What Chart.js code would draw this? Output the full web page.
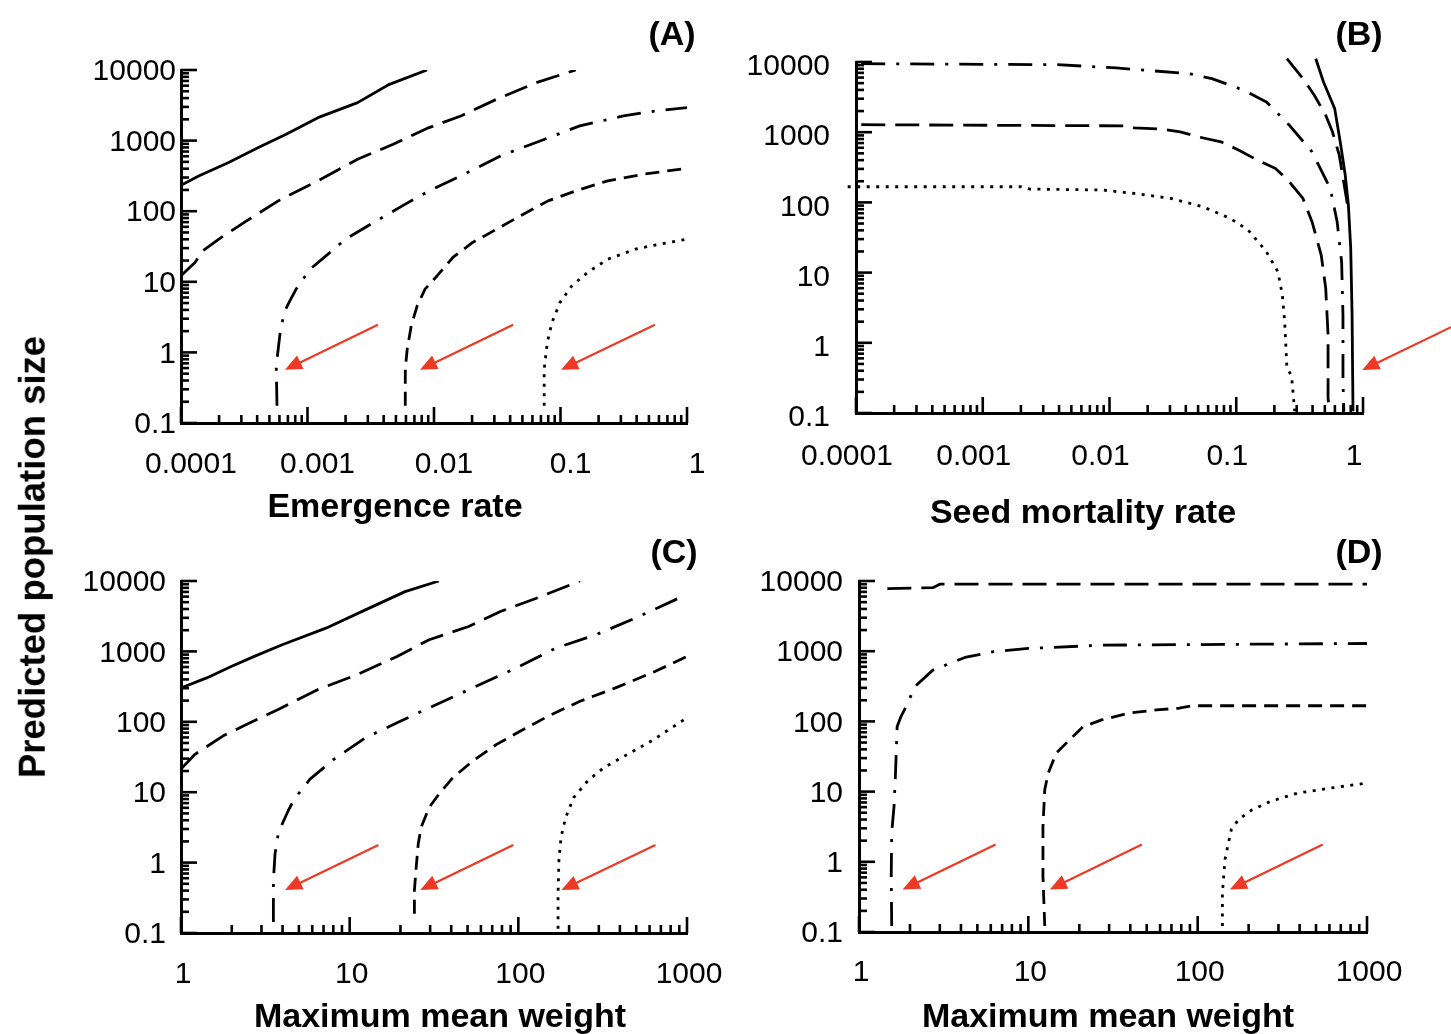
<!DOCTYPE html>
<html>
<head>
<meta charset="utf-8">
<script src="https://cdn.jsdelivr.net/npm/chart.js@4.4.1/dist/chart.umd.min.js"></script>
<style>
html,body{margin:0;padding:0;background:#fff;}
body{width:1451px;height:1034px;position:relative;overflow:hidden;font-family:"Liberation Sans",Arial,Helvetica,sans-serif;}
canvas{position:absolute;}
.t{position:absolute;font-weight:bold;font-size:34px;color:#000;white-space:nowrap;transform:translate(-50%,-50%);line-height:1;}
</style>
</head>
<body>
<canvas id="cA" width="725" height="490" style="left:0px;top:0px"></canvas>
<canvas id="cB" width="726" height="490" style="left:725px;top:0px"></canvas>
<canvas id="cC" width="747" height="514" style="left:0px;top:520px"></canvas>
<canvas id="cD" width="726" height="514" style="left:725px;top:520px"></canvas>

<div class="t" style="left:33px;top:557px;font-size:36.5px;transform:translate(-50%,-50%) rotate(-90deg);">Predicted population size</div>
<div class="t" style="left:395px;top:505px;">Emergence rate</div>
<div class="t" style="left:1083px;top:511px;">Seed mortality rate</div>
<div class="t" style="left:440px;top:1015px;">Maximum mean weight</div>
<div class="t" style="left:1108px;top:1015px;">Maximum mean weight</div>
<div class="t" style="left:672px;top:33px;">(A)</div>
<div class="t" style="left:1359px;top:33px;">(B)</div>
<div class="t" style="left:674px;top:551px;">(C)</div>
<div class="t" style="left:1359px;top:551px;">(D)</div>

<script>
// ---------- tick values / labels ----------
const popTicks = [0.1, 1, 10, 100, 1000, 10000];
const popTickLabels = ['0.1', '1', '10', '100', '1000', '10000'];
const rateTicks = [0.0001, 0.001, 0.01, 0.1, 1];
const rateTickLabels = ['0.0001', '0.001', '0.01', '0.1', '1'];
const weightTicks = [1, 10, 100, 1000];
const weightTickLabels = ['1', '10', '100', '1000'];

// ---------- Panel A: Emergence rate ----------
const aSolidX = [0.0001, 0.000138, 0.000238, 0.000409, 0.000678, 0.00121, 0.00249, 0.00444, 0.00881];
const aSolidY = [233, 316, 489, 796, 1230, 2113, 3451, 6266, 10000];
const aLongDashX = [0.0001, 0.000129, 0.000149, 0.000199, 0.00033, 0.000587, 0.00121, 0.00249, 0.00476, 0.00914, 0.0163, 0.0312, 0.0643, 0.132];
const aLongDashY = [12.2, 18.8, 27.5, 40.2, 72.9, 140, 269, 545, 887, 1528, 2234, 3846, 6622, 10000];
const aDashDotX = [0.000574, 0.000566, 0.000608, 0.000655, 0.000703, 0.000813, 0.00105, 0.0014, 0.002, 0.00333, 0.00593, 0.00914, 0.0163, 0.0335, 0.069, 0.142, 0.315, 0.561, 1];
const aDashDotY = [0.176, 0.647, 1.92, 3.68, 4.83, 7.87, 15.1, 23.3, 40.2, 69.2, 126, 194, 316, 607, 989, 1614, 2234, 2630, 2931];
const aDashX = [0.00593, 0.00593, 0.00614, 0.00661, 0.00736, 0.00849, 0.0106, 0.0141, 0.0202, 0.0312, 0.0481, 0.0798, 0.132, 0.236, 0.452, 1];
const aDashY = [0.176, 0.581, 1.11, 2.38, 4.57, 7.87, 12.2, 22.1, 36.1, 55.6, 85.9, 140, 194, 269, 334, 406];
const aDotX = [0.0743, 0.0743, 0.0787, 0.0857, 0.0991, 0.123, 0.164, 0.236, 0.391, 0.603, 1];
const aDotY = [0.176, 0.581, 1.39, 2.66, 5.11, 8.77, 13.6, 20.9, 29.0, 34.1, 40.2];
const aArrowTailX = [0.0036, 0.0422, 0.558];
const aArrowTailY = [2.46, 2.46, 2.46];
const aArrowHeadX = [0.000664, 0.00775, 0.101];
const aArrowHeadY = [0.568, 0.568, 0.568];

// ---------- Panel B: Seed mortality rate ----------
const bDashDotX = [0.00011, 0.00386, 0.0113, 0.0425, 0.0643, 0.115, 0.173, 0.262, 0.396, 0.552, 0.625, 0.678, 0.695, 0.695, 0.706];
const bDashDotY = [9460, 9162, 8222, 6823, 5794, 3954, 2698, 1259, 525, 158, 53.1, 14.3, 2.5, 0.282, 0.106];
const bLongDashX = [0.00011, 0.0134, 0.0157, 0.0259, 0.0361, 0.0501, 0.0759, 0.105, 0.147, 0.204, 0.262, 0.336, 0.396, 0.468, 0.508, 0.53, 0.53, 0.545];
const bLongDashY = [1280, 1230, 1153, 1104, 1012, 859, 729, 555, 400, 304, 197, 114, 53.1, 17.8, 5.98, 1.3, 0.163, 0.106];
const bDotX = [0.000086, 0.002, 0.00236, 0.00883, 0.0157, 0.0305, 0.0544, 0.0895, 0.124, 0.173, 0.213, 0.231, 0.241, 0.251, 0.273, 0.289];
const bDotY = [167, 167, 155, 150, 134, 114, 86.7, 59.3, 40.5, 19.9, 10.3, 4.81, 2.01, 0.437, 0.339, 0.106];
const bSteepDashX = [0.251, 0.336, 0.413, 0.508, 0.574, 0.65, 0.76];
const bSteepDashY = [11143, 5794, 3357, 1746, 1012, 471, 85];
const bSolidX = [0.424, 0.488, 0.598, 0.661, 0.724, 0.767, 0.8, 0.82, 0.834];
const bSolidY = [11143, 5200, 2168, 729, 245, 91.6, 22.2, 2.5, 0.106];
const bArrowTailX = [5.35];
const bArrowTailY = [1.79];
const bArrowHeadX = [0.986];
const bArrowHeadY = [0.41];

// ---------- Panel C: Maximum mean weight ----------
const cSolidX = [1, 1.42, 1.97, 2.72, 3.98, 7.23, 12.4, 21.3, 33.8];
const cSolidY = [302, 420, 607, 849, 1242, 2138, 3890, 7063, 10000];
const cLongDashX = [1, 1.21, 1.77, 2.44, 3.77, 6.49, 11.1, 19.1, 29.6, 50.8, 78.3, 128, 232];
const cLongDashY = [21.4, 34.5, 62.7, 91.6, 150, 287, 468, 849, 1462, 2259, 3681, 5689, 10000];
const cDashDotX = [3.53, 3.53, 3.61, 3.77, 3.98, 4.32, 4.69, 5.82, 8.05, 12.4, 19.1, 29.6, 53.6, 97.3, 167, 288, 494, 1000];
const cDashDotY = [0.143, 0.556, 1.33, 2.55, 3.52, 5.45, 7.96, 15.3, 29.3, 59.4, 96.8, 158, 303, 581, 1114, 1722, 2965, 6471];
const cDashX = [24.2, 24.2, 24.8, 25.5, 26.5, 29.6, 33.8, 40.9, 53.6, 74.3, 103, 150, 232, 377, 649, 1000];
const cDashY = [0.188, 0.402, 0.859, 1.84, 3.16, 6.07, 9.38, 16.1, 27.7, 47.8, 73.8, 120, 196, 303, 521, 849];
const cDotX = [172, 172, 174, 179, 191, 213, 258, 321, 444, 614, 1000];
const cDotY = [0.115, 0.361, 1.07, 2.28, 4.39, 8.41, 14.5, 22.3, 34.5, 53.2, 114];
const cArrowTailX = [14.8, 93.3, 650];
const cArrowTailY = [1.78, 1.78, 1.78];
const cArrowHeadX = [4.14, 26.2, 180];
const cArrowHeadY = [0.408, 0.408, 0.408];

// ---------- Panel D: Maximum mean weight ----------
const dLongDashX = [1.47, 2.73, 3.0, 1000];
const dLongDashY = [7780, 8035, 9000, 9000];
const dDashDotX = [1.56, 1.55, 1.56, 1.61, 1.64, 1.68, 1.77, 1.94, 2.13, 2.73, 4.22, 6.11, 10.0, 27.1, 1000];
const dDashDotY = [0.122, 0.624, 2.58, 6.17, 16.4, 84.3, 117, 181, 312, 538, 815, 979, 1094, 1219, 1288];
const dDashX = [12.5, 12.2, 12.2, 12.5, 13.1, 14.6, 17.5, 21.1, 27.1, 39.3, 57.0, 77.8, 93.5, 1000];
const dDashY = [0.122, 0.624, 3.21, 10.6, 18.3, 35.2, 54.6, 84.3, 105, 131, 146, 154, 167, 167];
const dDotX = [140, 140, 145, 152, 158, 174, 210, 269, 390, 603, 1000];
const dDotY = [0.122, 0.362, 1.08, 1.86, 2.87, 3.98, 5.52, 7.26, 9.53, 11.2, 13.2];
const dArrowTailX = [6.41, 46.8, 548];
const dArrowTailY = [1.76, 1.76, 1.76];
const dArrowHeadX = [1.81, 13.4, 155];
const dArrowHeadY = [0.403, 0.403, 0.403];

// ---------- styles ----------
const FONT = '"Liberation Sans", Arial, Helvetica, sans-serif';
const TICK_FONT_SIZE = 30;
const DASH = {solid: [], longDash: [24, 10], dashDot: [24, 11, 3, 11], dash: [14, 8], dot: [3, 6.5]};
const ARROW_COLOR = 'rgb(236, 58, 38)';

const extras = {
  id: 'extras',
  afterDraw(chart, args, opts) {
    const {ctx, chartArea: ca, scales: {x, y}} = chart;
    ctx.save();
    ctx.strokeStyle = '#000';
    ctx.lineCap = 'butt';
    ctx.lineWidth = 2.6;
    [[x, 'x'], [y, 'y']].forEach(([s, id]) => {
      const e0 = Math.floor(Math.log10(s.min) + 1e-9), e1 = Math.ceil(Math.log10(s.max) - 1e-9);
      for (let e = e0; e <= e1; e++) {
        for (let k = 1; k <= 9; k++) {
          const v = k * Math.pow(10, e);
          if (v < s.min * 0.9999 || v > s.max * 1.0001) continue;
          const p = s.getPixelForValue(v);
          const len = k === 1 ? 16 : 8;
          ctx.beginPath();
          if (id === 'x') { ctx.moveTo(p, ca.bottom); ctx.lineTo(p, ca.bottom - len); }
          else { ctx.moveTo(ca.left, p); ctx.lineTo(ca.left + len, p); }
          ctx.stroke();
        }
      }
    });
    const a = opts.arrows;
    ctx.strokeStyle = ARROW_COLOR;
    ctx.fillStyle = ARROW_COLOR;
    ctx.lineWidth = 2.2;
    a.tailX.forEach((tx, i) => {
      const x0 = x.getPixelForValue(tx), y0 = y.getPixelForValue(a.tailY[i]);
      const x1 = x.getPixelForValue(a.headX[i]), y1 = y.getPixelForValue(a.headY[i]);
      const ang = Math.atan2(y1 - y0, x1 - x0), L = 17, W = 7.5;
      const c = Math.cos(ang), sn = Math.sin(ang);
      const bx = x1 - L * c, by = y1 - L * sn;
      ctx.beginPath(); ctx.moveTo(x0, y0); ctx.lineTo(bx + 3 * c, by + 3 * sn); ctx.stroke();
      ctx.beginPath();
      ctx.moveTo(x1, y1);
      ctx.lineTo(bx + W * sn, by - W * c);
      ctx.lineTo(bx - W * sn, by + W * c);
      ctx.closePath();
      ctx.fill();
    });
    ctx.restore();
  }
};

function series(xs, ys, dash, noClip) {
  const d = {
    data: xs.map((v, i) => ({x: v, y: ys[i]})),
    borderColor: '#000', borderWidth: 2.8, borderDash: dash,
    borderCapStyle: 'butt', borderJoinStyle: 'round',
    pointRadius: 0, pointHoverRadius: 0, fill: false, tension: 0
  };
  if (noClip) d.clip = false;
  return d;
}

function panel(id, o) {
  new Chart(document.getElementById(id), {
    type: 'line',
    data: {datasets: o.datasets},
    plugins: [extras],
    options: {
      responsive: false, animation: false, devicePixelRatio: 1,
      layout: {padding: {left: 0, top: o.padTop, right: o.padRight, bottom: 0}},
      plugins: {legend: {display: false}, tooltip: {enabled: false}, title: {display: false},
        extras: {arrows: o.arrows}},
      scales: {
        x: {
          type: 'logarithmic', position: 'bottom', min: o.xMin, max: o.xMax,
          afterBuildTicks: s => { s.ticks = o.xTicks.map(v => ({value: v, major: true})); },
          afterFit: s => { s.height = o.xAxisH; },
          grid: {display: false, drawTicks: false},
          border: {display: true, color: '#000', width: 3},
          ticks: {callback: (v, i) => o.xLabels[i], color: '#000', font: {family: FONT, size: TICK_FONT_SIZE},
            padding: o.xPad, labelOffset: o.xOff, maxRotation: 0, minRotation: 0, autoSkip: false}
        },
        y: {
          type: 'logarithmic', position: 'left', min: 0.1, max: 10000,
          afterBuildTicks: s => { s.ticks = popTicks.map(v => ({value: v, major: true})); },
          afterFit: s => { s.width = o.yAxisW; },
          grid: {display: false, drawTicks: false},
          border: {display: true, color: '#000', width: 3},
          ticks: {callback: (v, i) => popTickLabels[i], color: '#000', font: {family: FONT, size: TICK_FONT_SIZE},
            padding: o.yPad, labelOffset: o.yOff, autoSkip: false}
        }
      }
    }
  });
}

panel('cA', {
  xMin: 0.0001, xMax: 1, xTicks: rateTicks, xLabels: rateTickLabels,
  padTop: 70, padRight: 38, yAxisW: 181, xAxisH: 67, xPad: 24, xOff: 10, yPad: 5, yOff: 2,
  datasets: [
    series(aSolidX, aSolidY, DASH.solid),
    series(aLongDashX, aLongDashY, DASH.longDash),
    series(aDashDotX, aDashDotY, DASH.dashDot),
    series(aDashX, aDashY, DASH.dash),
    series(aDotX, aDotY, DASH.dot)
  ],
  arrows: {tailX: aArrowTailX, tailY: aArrowTailY, headX: aArrowHeadX, headY: aArrowHeadY}
});

panel('cB', {
  xMin: 0.0001, xMax: 1, xTicks: rateTicks, xLabels: rateTickLabels,
  padTop: 62, padRight: 88, yAxisW: 131, xAxisH: 77, xPad: 26, xOff: -9, yPad: 26, yOff: 5,
  datasets: [
    series(bDashDotX, bDashDotY, DASH.dashDot, true),
    series(bLongDashX, bLongDashY, DASH.longDash, true),
    series(bDotX, bDotY, DASH.dot, true),
    series(bSteepDashX, bSteepDashY, DASH.longDash, true),
    series(bSolidX, bSolidY, DASH.solid, true)
  ],
  arrows: {tailX: bArrowTailX, tailY: bArrowTailY, headX: bArrowHeadX, headY: bArrowHeadY}
});

panel('cC', {
  xMin: 1, xMax: 1000, xTicks: weightTicks, xLabels: weightTickLabels,
  padTop: 61, padRight: 60, yAxisW: 181, xAxisH: 101, xPad: 24, xOff: 2, yPad: 15, yOff: 2,
  datasets: [
    series(cSolidX, cSolidY, DASH.solid),
    series(cLongDashX, cLongDashY, DASH.longDash),
    series(cDashDotX, cDashDotY, DASH.dashDot),
    series(cDashX, cDashY, DASH.dash),
    series(cDotX, cDotY, DASH.dot)
  ],
  arrows: {tailX: cArrowTailX, tailY: cArrowTailY, headX: cArrowHeadX, headY: cArrowHeadY}
});

panel('cD', {
  xMin: 1, xMax: 1000, xTicks: weightTicks, xLabels: weightTickLabels,
  padTop: 61, padRight: 84, yAxisW: 134, xAxisH: 102, xPad: 23, xOff: 2, yPad: 16, yOff: 2,
  datasets: [
    series(dLongDashX, dLongDashY, DASH.longDash),
    series(dDashDotX, dDashDotY, DASH.dashDot),
    series(dDashX, dDashY, DASH.dash),
    series(dDotX, dDotY, DASH.dot)
  ],
  arrows: {tailX: dArrowTailX, tailY: dArrowTailY, headX: dArrowHeadX, headY: dArrowHeadY}
});
</script>
</body>
</html>
